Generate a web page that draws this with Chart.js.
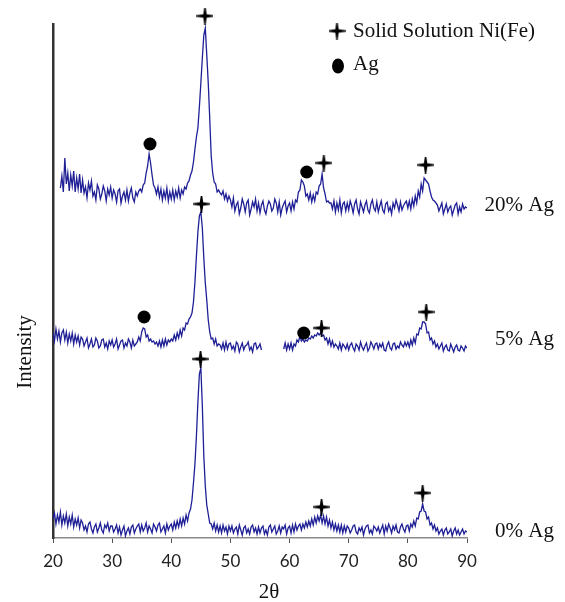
<!DOCTYPE html>
<html>
<head>
<meta charset="utf-8">
<script src="https://cdn.jsdelivr.net/npm/chart.js@4.4.1/dist/chart.umd.min.js"></script>
<style>
  html, body { margin: 0; padding: 0; background: #fff; }
  #xrd { display: block; }
</style>
</head>
<body>
<canvas id="xrd" width="565" height="602"></canvas>
<script>
// 2θ scan 20°..90°, 0.25° step
const scanStart = 20, scanStep = 0.25;

const sampleNames = ['0% Ag', '5% Ag', '20% Ag'];
const stackOffsets = [0, 180, 318];
const labelLevels = [7, 199, 333];

// raw counts, one row = 5°
const counts0 = [
  19, 25, 14, 23, 16, 26, 13, 22, 15, 24, 12, 21, 14, 23, 11, 19, 13, 20, 10, 18,
  15, 8, 12, 6, 14, 16, 9, 5, 11, 14, 6, 10, 15, 8, 5, 13, 10, 15, 7, 12,
  12, 6, 9, 13, 5, 11, 3, 8, 12, 2, 7, 10, 4, 11, 13, 5, 9, 12, 14, 6,
  13, 7, 10, 15, 6, 12, 9, 5, 14, 11, 7, 13, 15, 6, 9, 12, 5, 14, 8, 12,
  14, 8, 16, 10, 17, 11, 19, 12, 20, 14, 23, 17, 25, 29, 38, 55, 74, 102, 136, 164,
  170, 132, 82, 52, 33, 24, 15, 14, 9, 15, 7, 13, 6, 12, 5, 13, 7, 11, 4, 12,
  7, 12, 5, 9, 11, 4, 13, 8, 3, 10, 12, 5, 9, 4, 11, 13, 6, 10, 4, 11,
  5, 10, 12, 4, 8, 3, 11, 13, 6, 9, 12, 4, 7, 12, 5, 11, 9, 13, 4, 10,
  12, 5, 13, 6, 14, 8, 12, 14, 8, 14, 10, 16, 11, 17, 12, 19, 13, 21, 15, 22,
  17, 23, 15, 22, 14, 21, 12, 18, 10, 16, 8, 14, 7, 13, 6, 13, 5, 12, 6, 12,
  10, 5, 8, 12, 13, 6, 4, 10, 7, 11, 3, 9, 12, 13, 5, 8, 4, 12, 10, 7,
  11, 5, 9, 13, 4, 12, 7, 14, 10, 5, 12, 8, 13, 6, 5, 11, 14, 9, 6, 12,
  13, 7, 14, 11, 17, 12, 20, 19, 26, 27, 34, 27, 26, 19, 21, 13, 15, 9, 13, 7,
  10, 4, 7, 9, 3, 8, 10, 4, 6, 9, 2, 7, 10, 4, 8, 3, 6, 9, 4, 7,
  6
];

const counts5 = [
  25, 17, 29, 19, 27, 16, 25, 28, 18, 26, 15, 24, 17, 25, 14, 23, 16, 22, 13, 21,
  19, 12, 16, 20, 10, 14, 19, 11, 13, 20, 17, 10, 12, 18, 19, 11, 15, 9, 17, 13,
  18, 11, 14, 19, 9, 13, 17, 18, 10, 15, 12, 19, 16, 10, 18, 12, 14, 16, 21, 17,
  26, 30, 29, 21, 23, 17, 19, 16, 17, 14, 16, 12, 17, 11, 18, 12, 19, 13, 18, 16,
  19, 17, 23, 18, 25, 20, 28, 22, 30, 28, 35, 34, 39, 41, 45, 56, 76, 102, 126, 142,
  146, 130, 100, 75, 58, 38, 26, 19, 20, 14, 19, 12, 14, 13, 9, 15, 8, 16, 9, 14,
  15, 9, 12, 7, 16, 14, 6, 11, 15, 8, 12, 13, 16, 8, 11, 6, 14, 15, 9, 11,
  14, 8, null, null, null, null, null, null, null, null, null, null, null, null, null, null, 9, 15, 8, 14,
  9, 15, 8, 14, 12, 18, 16, 22, 17, 19, 16, 18, 17, 20, 19, 22, 20, 23, 22, 25,
  23, 25, 22, 23, 18, 20, 14, 19, 12, 17, 11, 14, 12, 9, 15, 8, 14, 12, 9, 14,
  8, 13, 15, 10, 7, 14, 12, 8, 16, 11, 8, 12, 15, 7, 10, 16, 13, 9, 14, 15,
  9, 14, 11, 15, 8, 7, 13, 16, 10, 8, 14, 15, 9, 12, 10, 16, 13, 11, 16, 12,
  16, 11, 18, 13, 20, 15, 24, 23, 30, 29, 36, 36, 34, 25, 26, 18, 20, 14, 17, 11,
  14, 9, 12, 15, 7, 11, 13, 8, 7, 14, 10, 6, 11, 13, 8, 7, 12, 10, 7, 12,
  10
];

const counts20 = [
  null, null, null, null, null, 32, 44, 28, 62, 36, 47, 29, 45, 34, 49, 28, 42, 31, 46, 27,
  40, 27, 33, 22, 37, 30, 39, 24, 28, 20, 35, 31, 21, 26, 34, 29, 19, 31, 25, 33,
  22, 30, 26, 18, 29, 31, 17, 24, 28, 20, 30, 19, 27, 32, 22, 18, 28, 24, 29, 31,
  28, 35, 37, 47, 54, 66, 57, 45, 35, 32, 26, 33, 23, 31, 20, 29, 22, 32, 19, 28,
  21, 30, 20, 29, 23, 32, 22, 30, 26, 33, 31, 37, 39, 45, 49, 58, 71, 83, 92, 113,
  137, 162, 185, 192, 165, 137, 102, 64, 47, 38, 36, 28, 30, 27, 25, 29, 21, 26, 19, 24,
  20, 13, 22, 9, 15, 18, 6, 12, 21, 16, 8, 17, 20, 5, 11, 18, 13, 21, 9, 17,
  7, 15, 19, 10, 6, 14, 19, 16, 9, 12, 21, 17, 8, 18, 5, 12, 16, 19, 8, 14,
  17, 9, 18, 11, 20, 18, 28, 30, 40, 38, 34, 24, 26, 20, 27, 18, 25, 19, 28, 26,
  34, 36, 46, 32, 26, 18, 19, 17, 17, 11, 19, 8, 17, 10, 20, 7, 16, 18, 9, 17,
  10, 19, 14, 7, 16, 20, 11, 6, 18, 13, 8, 15, 19, 10, 7, 16, 20, 12, 9, 18,
  8, 14, 19, 10, 7, 16, 18, 9, 13, 6, 17, 12, 20, 15, 9, 18, 10, 14, 17, 19,
  12, 19, 11, 21, 14, 24, 17, 29, 23, 36, 29, 42, 40, 38, 36, 29, 23, 20, 19, 17,
  15, 9, 13, 17, 6, 11, 16, 8, 12, 14, 5, 10, 15, 17, 6, 13, 8, 16, 11, 13,
  12
];

// peak markers on the stacked plot (2θ, intensity)
const niFeX = [44.95, 65.4, 82.5, 45.1, 65.4, 83.1, 45.7, 65.8, 83.0];
const niFeY = [179, 31, 45, 334, 210, 226, 522, 375, 373];
const agX = [35.4, 62.4, 36.4, 62.9];
const agY = [221, 205, 394, 366];

const twoTheta = counts0.map((_, i) => scanStart + i * scanStep);
const allCounts = [counts0, counts5, counts20];

const serif = '"Liberation Serif", "Times New Roman", serif';
const traceColor = '#1f1f96';

// four-pointed cross used for the Ni(Fe) reflections
function starImage(size) {
  const c = document.createElement('canvas');
  c.width = c.height = size;
  const g = c.getContext('2d');
  const r = size / 2, tip = 0.7, mid = 1.7;
  g.translate(r, r);
  g.beginPath();
  g.moveTo(-tip, -r); g.lineTo(tip, -r); g.lineTo(mid, -mid);
  g.lineTo(r, -tip); g.lineTo(r, tip); g.lineTo(mid, mid);
  g.lineTo(tip, r); g.lineTo(-tip, r); g.lineTo(-mid, mid);
  g.lineTo(-r, tip); g.lineTo(-r, -tip); g.lineTo(-mid, -mid);
  g.closePath();
  g.fillStyle = '#000';
  g.fill();
  return c;
}
const star = starImage(17);

const traces = allCounts.map((counts, k) => ({
  label: sampleNames[k],
  data: counts.map((v, i) => ({ x: twoTheta[i], y: v == null ? null : v + stackOffsets[k] })),
  borderColor: traceColor,
  borderWidth: 1.3,
  pointRadius: 0,
  tension: 0,
  spanGaps: false,
  order: 2
}));

const markers = [
  {
    type: 'scatter',
    label: 'Solid Solution Ni(Fe)',
    data: niFeX.map((x, i) => ({ x, y: niFeY[i] })),
    pointStyle: star,
    pointRadius: 9,
    clip: false,
    order: 1
  },
  {
    type: 'scatter',
    label: 'Ag',
    data: agX.map((x, i) => ({ x, y: agY[i] })),
    pointStyle: 'circle',
    pointRadius: 6.5,
    backgroundColor: '#000',
    borderColor: '#000',
    borderWidth: 0,
    clip: false,
    order: 1
  }
];

// axis titles, sample labels and the marker key
const decorations = {
  id: 'decorations',
  afterDraw(chart) {
    const { ctx, scales: { y } } = chart;
    ctx.save();
    ctx.fillStyle = '#111';
    ctx.font = '21px ' + serif;
    ctx.textBaseline = 'middle';

    ctx.textAlign = 'right';
    sampleNames.forEach((name, i) => ctx.fillText(name, 554, y.getPixelForValue(labelLevels[i])));

    ctx.textAlign = 'left';
    ctx.drawImage(star, 337 - star.width / 2, 31 - star.height / 2);
    ctx.fillText('Solid Solution Ni(Fe)', 353, 31);
    ctx.beginPath();
    ctx.ellipse(338, 66, 6, 7.5, 0, 0, Math.PI * 2);
    ctx.fillStyle = '#000';
    ctx.fill();
    ctx.fillStyle = '#111';
    ctx.fillText('Ag', 353, 64);

    ctx.textAlign = 'center';
    ctx.fillText('2θ', 269, 592);
    ctx.translate(25, 352);
    ctx.rotate(-Math.PI / 2);
    ctx.fillText('Intensity', 0, 0);
    ctx.restore();
  }
};

new Chart(document.getElementById('xrd'), {
  type: 'line',
  data: { datasets: [...traces, ...markers] },
  options: {
    responsive: false,
    animation: false,
    devicePixelRatio: 1,
    layout: { padding: { left: 53, right: 98, top: 24, bottom: 22.6 } },
    plugins: { legend: { display: false }, tooltip: { enabled: false } },
    scales: {
      x: {
        type: 'linear',
        min: 20,
        max: 90,
        ticks: { stepSize: 10, color: '#222', font: { family: 'Lato', size: 17 }, padding: 8 },
        grid: { drawOnChartArea: false, drawTicks: true, tickLength: 5, color: '#555' },
        border: { color: '#8a8a8a', width: 1.5 }
      },
      y: {
        min: 0,
        max: 514,
        ticks: { display: false },
        grid: { display: false, drawTicks: false },
        border: { color: '#333', width: 2.5 }
      }
    }
  },
  plugins: [decorations]
});
</script>
</body>
</html>
